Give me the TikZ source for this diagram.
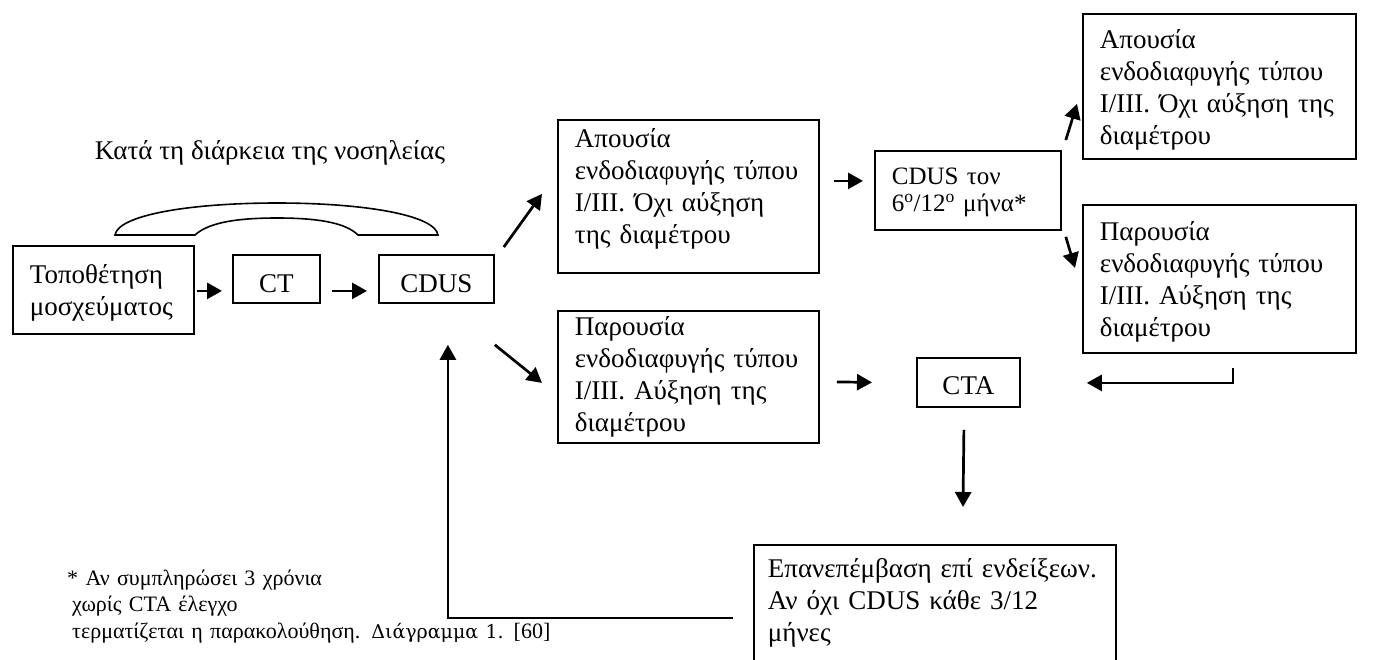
\documentclass[tikz,border=0pt]{standalone}
\usepackage{fontspec}
\setmainfont{Liberation Serif}
\newfontfamily\dgfont{DejaVu Serif}
\usetikzlibrary{arrows.meta}
\tikzset{box/.style={draw,line width=1.8pt,anchor=north west,inner xsep=17pt,inner ysep=0pt,align=left,
  font=\fontsize{27}{32}\selectfont},flow/.style={-{Triangle[length=15pt,width=16pt]},line width=2.7pt}}

\begin{document}
\begin{tikzpicture}[x=1pt,y=1pt]
\useasboundingbox (0,0) rectangle (1381,-659);
\clip (0,0) rectangle (1381,-659);
\node[font=\fontsize{27}{32}\selectfont,anchor=base] (stay) at (270,-159) {Κατά τη διάρκεια της νοσηλείας};
\draw[line width=1.6pt] (115,-235) .. controls (118,-215) and (190,-203) .. (277,-203) .. controls (364,-203) and (435,-215) .. (438,-235)
  -- (358,-235) .. controls (345,-222) and (315,-218) .. (277,-218) .. controls (239,-218) and (209,-222) .. (195,-235) -- cycle;
\node[box,text width=147pt,text height=38pt,text depth=50pt] (pl) at (12,-245) {Τοποθέτηση\\μοσχεύματος};
\node[box,align=center,text width=53pt,text height=38pt,text depth=10pt] (ct) at (232,-254) {CT};
\node[box,align=center,text width=81pt,text height=38pt,text depth=10pt] (cdus) at (378,-254) {CDUS};
\node[box,text width=227pt,text height=28pt,text depth=125pt] (ap1) at (557,-119) {Απουσία\\ενδοδιαφυγής τύπου\\I/III. Όχι αύξηση\\της διαμέτρου};
\node[box,text width=227pt,text height=25pt,text depth=107pt] (pa1) at (557,-310) {Παρουσία\\ενδοδιαφυγής τύπου\\I/III. Αύξηση της\\διαμέτρου};
\node[box,font=\fontsize{25}{27}\selectfont,text width=152pt,text height=34pt,text depth=45pt] (cd2) at (874,-150) {CDUS τον\\6\textsuperscript{o}/12\textsuperscript{o} μήνα*};
\node[box,text width=239pt,text height=35pt,text depth=110pt] (ap2) at (1082,-13) {Απουσία\\ενδοδιαφυγής τύπου\\I/III. Όχι αύξηση της\\διαμέτρου};
\node[box,text width=239pt,text height=36pt,text depth=112pt] (pa2) at (1082,-204) {Παρουσία\\ενδοδιαφυγής τύπου\\I/III. Αύξηση της\\διαμέτρου};
\node[box,align=center,text width=69pt,text height=37pt,text depth=12pt] (cta) at (916,-357) {CTA};
\node[box,inner xsep=14pt,text width=334pt,text height=33pt,text depth=97pt] (rev) at (753,-544) {Επανεπέμβαση επί ενδείξεων.\\Αν όχι CDUS κάθε 3/12\\μήνες};
\node[anchor=base west,inner sep=0pt,text width=600pt,align=left,font=\fontsize{22}{26.5}\selectfont] (note) at (67,-585)
  {* Αν συμπληρώσει 3 χρόνια\\\hspace*{5pt}χωρίς CTA έλεγχο\\\hspace*{5pt}τερματίζεται η παρακολούθηση. {\dgfont\fontsize{19}{25}\selectfont Διάγραμμα 1.}\hspace{10pt}[60]};
% arrows
\draw[flow] ([shift={(2pt,-1pt)}]pl.east) -- ([shift={(-10pt,-12pt)}]ct.west);
\draw[flow] ([shift={(11pt,-12pt)}]ct.east) -- ([shift={(-11pt,-12pt)}]cdus.west);
\draw[flow] ([shift={(9pt,7pt)}]cdus.north east) -- ([shift={(-15pt,2.5pt)}]ap1.west);
\draw[flow] ([shift={(0pt,-41pt)}]cdus.south east) -- ([shift={(-15pt,-6pt)}]pa1.west);
\draw[flow] ([shift={(14pt,15.5pt)}]ap1.east) -- ([shift={(-11pt,9.5pt)}]cd2.west);
\draw[flow] ([shift={(17pt,-5pt)}]pa1.east) -- ([shift={(-44pt,0pt)}]cta.west);
\draw[flow] ([shift={(4pt,10pt)}]cd2.north east) -- ([shift={(-5pt,-17.5pt)}]ap2.west);
\draw[flow] ([shift={(4pt,-6pt)}]cd2.south east) -- ([shift={(-7pt,11pt)}]pa2.west);
\draw[flow] ([shift={(13.5pt,-14pt)}]pa2.south) |- ([shift={(66pt,-0.5pt)}]cta.east);
\draw[flow] ([shift={(-4.5pt,-22pt)}]cta.south) -- ([shift={(210pt,37pt)}]rev.north west);
\draw[flow] ([shift={(-20pt,-8pt)}]rev.west) -| ([shift={(11.5pt,-41pt)}]cdus.south);
\end{tikzpicture}
\end{document}
